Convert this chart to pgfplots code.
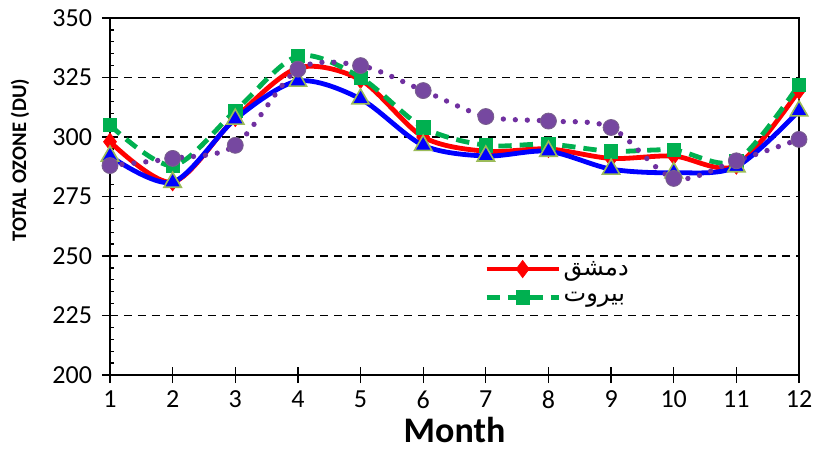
\documentclass[border=0pt]{standalone}
\usepackage{fontspec}
\setmainfont{Carlito}
\newfontfamily\arabicfont[Script=Arabic]{DejaVu Sans}
\TeXXeTstate=1
\usepackage{pgfplots}
\pgfplotsset{compat=1.18}
\definecolor{cred}{RGB}{255,0,0}
\definecolor{cgreen}{RGB}{0,176,80}
\definecolor{cblue}{RGB}{0,0,255}
\definecolor{cpurple}{RGB}{112,48,160}
\definecolor{cpurplefill}{RGB}{118,72,160}
\definecolor{colive}{RGB}{155,187,89}
\begin{document}
\begin{tikzpicture}
\begin{axis}[
  scale only axis, width=516.75pt, height=267.75pt,
  xmin=1, xmax=12, ymin=200, ymax=350,
  xtick=\empty,
  extra x ticks={1,2,3,4,5,6,7,8,9,10,11,12},
  extra x tick style={major tick length=12pt, tick align=center},
  ytick={200,225,250,275,300,325,350},
  minor y tick num=4,
  xtick pos=bottom, ytick pos=left,
  ytick align=outside,
  major tick length=6pt, minor tick length=3pt,
  minor y tick style={xshift=3pt},
  tick style={black, line width=1pt},
  ymajorgrids,
  major grid style={black, line width=1.1pt, dash pattern=on 6pt off 4.5pt},
  axis line style={black, line width=1.1pt},
  tick label style={font=\fontsize{19.5}{22}\selectfont},
  /pgf/number format/assume math mode=true,
  yticklabel style={xshift=-4pt},
  xticklabel style={yshift=-4.5pt, inner sep=1pt},
  ylabel={\textbf{TOTAL OZONE (DU)}},
  ylabel style={at={(axis description cs:-0.1306,0.602)}, anchor=center, font=\fontsize{15.5}{18}\selectfont},
  xlabel={\textbf{Month}},
  xlabel style={at={(axis description cs:0.5,-0.19)}, anchor=base, inner sep=0pt, font=\fontsize{27}{30}\selectfont},
  clip=false,
  legend style={at={(axis description cs:0.537,0.335)}, anchor=north west, draw=none, fill=none,
    font=\fontsize{18}{20}\selectfont, row sep=7pt},
  legend cell align=left,
  legend image code/.code={\draw[mark repeat=2, mark phase=2, #1] plot coordinates {(0pt,0pt) (27pt,0pt) (54pt,0pt)};},
]
\addplot[cred, line width=3.6pt, smooth, tension=0.5, mark=diamond*, mark size=6.5pt,
  mark options={solid, fill=cred, draw=cred, line width=0.5pt}]
  coordinates {(1,298) (2,281) (3,308) (4,329) (5,324) (6,300) (7,294) (8,295) (9,291) (10,292) (11,288) (12,319.5)};
\addlegendentry{\arabicfont\beginR دمشق\endR}
\addplot[cgreen, line width=3.6pt, smooth, tension=0.5, dash pattern=on 10pt off 6pt, mark=square*, mark size=5pt,
  mark options={solid, fill=cgreen, draw=cgreen, line width=0.5pt}]
  coordinates {(1,305) (2,288) (3,311) (4,334) (5,325) (6,304) (7,296.5) (8,297) (9,294) (10,294.5) (11,290) (12,322)};
\addlegendentry{\arabicfont\beginR بيروت\endR}
\addplot[cblue, line width=3.6pt, smooth, tension=0.5, mark=triangle*, mark size=7.5pt,
  mark options={solid, fill=cblue, draw=colive, line width=1.2pt}, forget plot]
  coordinates {(1,292) (2,281) (3,307.5) (4,323.5) (5,316) (6,296.5) (7,292) (8,294) (9,286.5) (10,285) (11,287.5) (12,311)};
\addplot[cpurple, line width=4pt, smooth, tension=0.5, line cap=round, dash pattern=on 0pt off 9pt, mark=*, mark size=6pt,
  mark options={solid, fill=cpurplefill, draw=gray!60!cpurple, line width=0.6pt}, forget plot]
  coordinates {(1,288) (2,291) (3,296.5) (4,328.5) (5,330) (6,319.5) (7,308.6) (8,306.7) (9,304) (10,282.6) (11,290) (12,299)};
\end{axis}
\pgfresetboundingbox
\path (-82.5pt,-56.25pt) rectangle (528pt,281.25pt);
\end{tikzpicture}
\end{document}
